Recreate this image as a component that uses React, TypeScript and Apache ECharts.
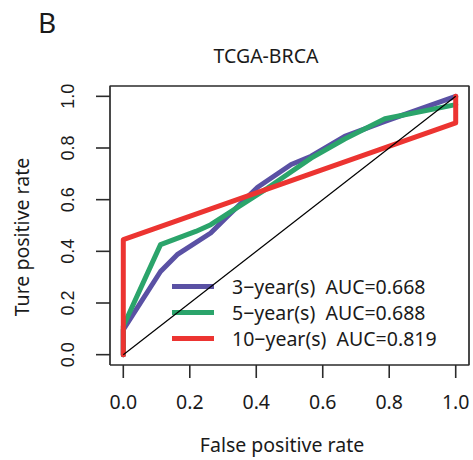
import React, { useEffect, useRef } from "react";
import * as echarts from "echarts";

// ROC curves, TCGA-BRCA cohort
const fpr3 = [0, 0, 0.112, 0.162, 0.263, 0.313, 0.404, 0.505, 0.565, 0.666, 0.787, 1.0];
const tpr3 = [0, 0.097, 0.322, 0.387, 0.471, 0.535, 0.648, 0.736, 0.768, 0.845, 0.903, 1.0];

const fpr5 = [0, 0, 0.112, 0.218, 0.263, 0.434, 0.565, 0.666, 0.787, 1.0];
const tpr5 = [0, 0.11, 0.426, 0.477, 0.503, 0.645, 0.761, 0.835, 0.913, 0.968];

const fpr10 = [0, 0, 1.0, 1.0];
const tpr10 = [0, 0.445, 0.897, 1.0];

const seriesNames = ["3\u2212year(s)", "5\u2212year(s)", "10\u2212year(s)"];
const aucValues = ["0.668", "0.688", "0.819"];
const seriesColors = ["#5A51A4", "#2BA46B", "#EC3431"];
const tickValues = [0, 0.2, 0.4, 0.6, 0.8, 1.0];
const tickLabels = ["0.0", "0.2", "0.4", "0.6", "0.8", "1.0"];

const FONT = "'Noto Sans', 'Open Sans', sans-serif";
const FS = 19.5;
const INK = "#2b2b2b";

// axis ranges padded by 4% on each side, as base R plots do
const AXIS_MIN = -0.04;
const AXIS_MAX = 1.04;

const W = 473;
const H = 460;
const GRID = { left: 110, right: 4, top: 86, bottom: 95 };

const labelFor = (v: number) => tickLabels[Math.round(v * 5)];

export default function App() {
  const ref = useRef<HTMLDivElement>(null);

  useEffect(() => {
    if (!ref.current) return;
    const chart = echarts.init(ref.current, null, { renderer: "svg" });
    const curves = [
      [fpr3, tpr3],
      [fpr5, tpr5],
      [fpr10, tpr10],
    ];
    const legendLabels = seriesNames.map((n, i) => `${n}  AUC=${aucValues[i]}`);

    // box around the whole plotting region
    const frame = [
      [AXIS_MIN, AXIS_MIN],
      [AXIS_MAX, AXIS_MIN],
      [AXIS_MAX, AXIS_MAX],
      [AXIS_MIN, AXIS_MAX],
      [AXIS_MIN, AXIS_MIN],
    ];

    // outward tick marks on both axes, drawn as thin filled bars
    const renderTicks = (_params: any, api: any) => {
      const v = api.value(0);
      const bx = api.coord([v, AXIS_MIN]);
      const ly = api.coord([AXIS_MIN, v]);
      return {
        type: "group",
        children: [
          {
            type: "rect",
            shape: { x: bx[0] - 0.8, y: bx[1], width: 1.6, height: 13 },
            style: { fill: INK },
          },
          {
            type: "rect",
            shape: { x: ly[0] - 14, y: ly[1] - 0.8, width: 14, height: 1.6 },
            style: { fill: INK },
          },
        ],
      };
    };

    chart.setOption({
      animation: false,
      backgroundColor: "#ffffff",
      tooltip: { show: false },
      grid: { ...GRID, show: false },
      xAxis: {
        type: "value",
        min: AXIS_MIN,
        max: AXIS_MAX,
        splitLine: { show: false },
        axisLine: { show: false },
        axisTick: { show: false },
        axisLabel: {
          margin: 26,
          fontSize: FS,
          fontFamily: FONT,
          color: "#1a1a1a",
          customValues: tickValues,
          formatter: labelFor,
        },
      },
      yAxis: {
        type: "value",
        min: AXIS_MIN,
        max: AXIS_MAX,
        splitLine: { show: false },
        axisLine: { show: false },
        axisTick: { show: false },
        axisLabel: {
          margin: 33,
          rotate: 90,
          fontSize: 18,
          fontFamily: "'Liberation Sans', Arial, sans-serif",
          color: "#1a1a1a",
          customValues: tickValues,
          formatter: labelFor,
        },
      },
      legend: {
        orient: "vertical",
        left: 172,
        top: 276,
        padding: 0,
        itemWidth: 42,
        itemHeight: 5,
        itemGap: 5,
        icon: "rect",
        data: seriesNames,
        formatter: (name: string) => legendLabels[seriesNames.indexOf(name)],
        textStyle: {
          fontSize: FS,
          lineHeight: 21,
          fontFamily: FONT,
          color: "#1a1a1a",
          padding: [0, 0, 0, 13],
        },
      },
      graphic: [
        {
          type: "text",
          x: 47,
          y: 22,
          style: {
            text: "B",
            fontSize: 28,
            fontFamily: FONT,
            fill: "#1a1a1a",
            align: "center",
            verticalAlign: "middle",
          },
        },
        {
          type: "text",
          x: 266,
          y: 55,
          style: {
            text: "TCGA-BRCA",
            fontSize: FS,
            fontFamily: FONT,
            fill: "#1a1a1a",
            align: "center",
            verticalAlign: "middle",
          },
        },
        {
          type: "text",
          x: 282,
          y: 444,
          style: {
            text: "False positive rate",
            fontSize: FS,
            fontFamily: FONT,
            fill: "#1a1a1a",
            align: "center",
            verticalAlign: "middle",
          },
        },
        {
          type: "text",
          x: 21,
          y: 237,
          rotation: Math.PI / 2,
          style: {
            text: "Ture positive rate",
            fontSize: FS,
            fontFamily: FONT,
            fill: "#1a1a1a",
            align: "center",
            verticalAlign: "middle",
          },
        },
      ],
      series: [
        ...curves.map(([xs, ys], i) => ({
          name: seriesNames[i],
          type: "line",
          data: xs.map((x, j) => [x, ys[j]]),
          showSymbol: false,
          symbol: "none",
          color: seriesColors[i],
          lineStyle: { color: seriesColors[i], width: 5, join: "round", cap: "round" },
          z: 2 + i * 0.1,
        })),
        {
          name: "reference",
          type: "line",
          data: [
            [0, 0],
            [1, 1],
          ],
          symbol: "none",
          color: "#000",
          lineStyle: { color: "#000", width: 1.2 },
          z: 5,
        },
        {
          name: "frame",
          type: "line",
          data: frame,
          symbol: "none",
          clip: false,
          color: INK,
          lineStyle: { color: INK, width: 1.7 },
          z: 6,
        },
        {
          name: "ticks",
          type: "custom",
          data: tickValues.map((v) => [v, v]),
          encode: { x: 0, y: 1 },
          renderItem: renderTicks,
          clip: false,
          z: 6,
        },
      ],
    });

    return () => chart.dispose();
  }, []);

  return (
    <div
      ref={ref}
      style={{ position: "absolute", left: 0, top: 0, width: W, height: H }}
    />
  );
}
